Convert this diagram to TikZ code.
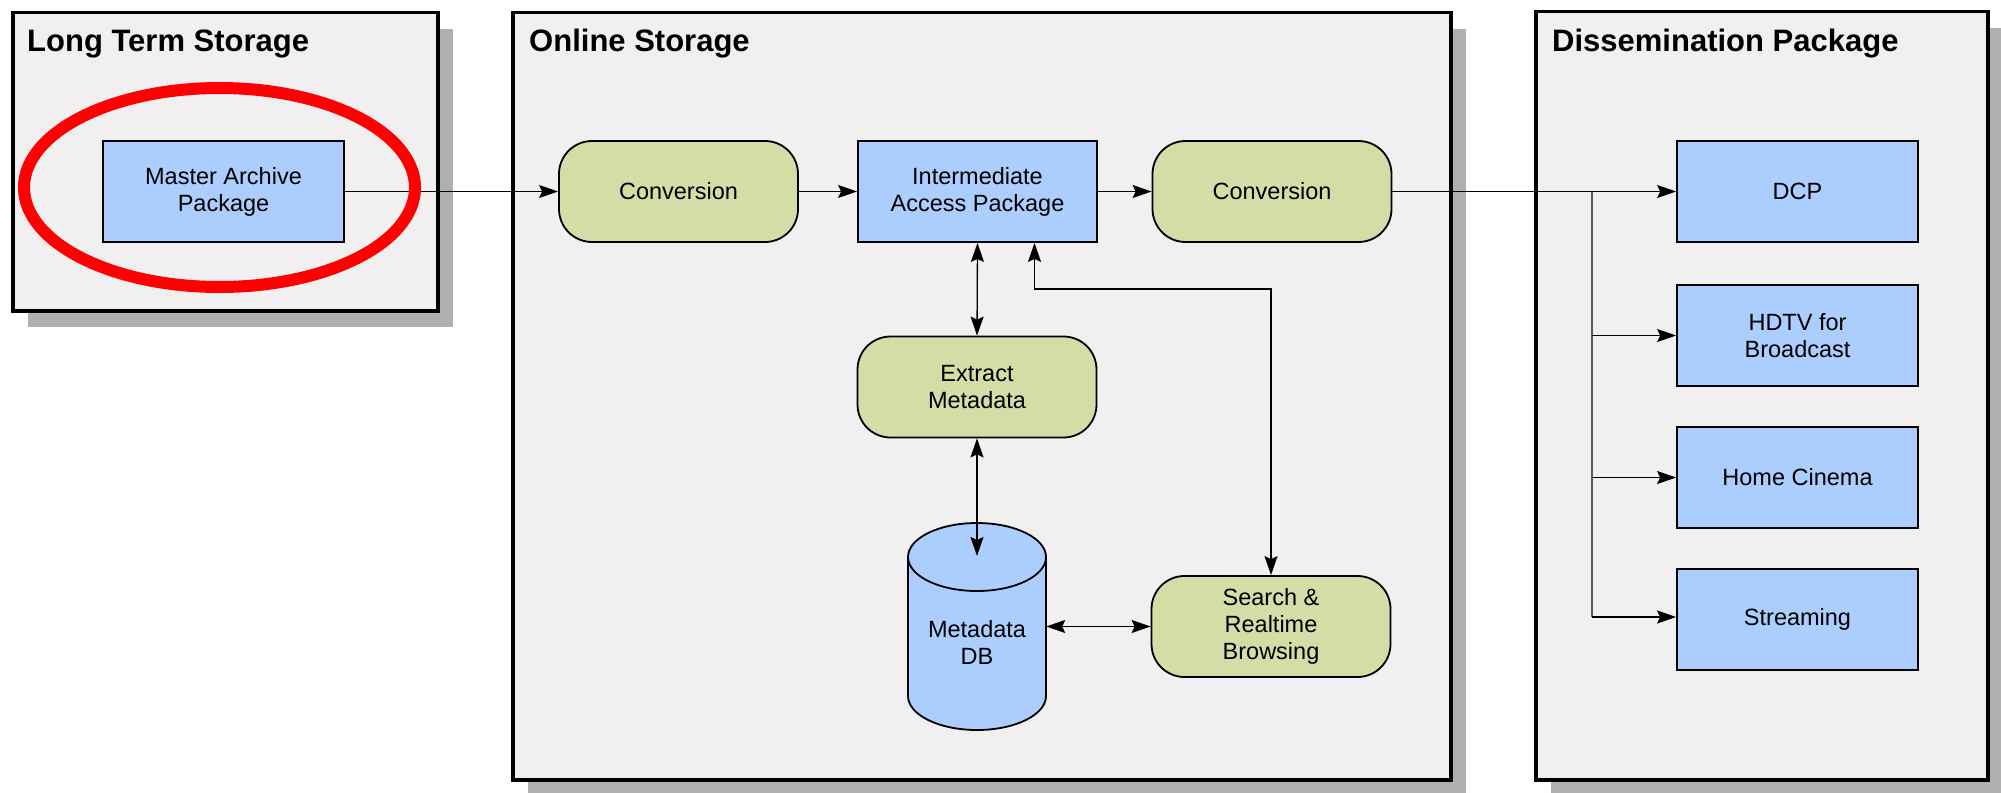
\documentclass[tikz,border=0pt]{standalone}
\usepackage{fontspec}
\setmainfont{Liberation Sans}
\usetikzlibrary{arrows.meta,shadows}

\definecolor{panelfill}{RGB}{241,239,240}
\definecolor{shadowgray}{RGB}{176,176,176}
\definecolor{pkgblue}{RGB}{172,206,255}
\definecolor{procgreen}{RGB}{212,221,165}
\definecolor{branchgray}{RGB}{90,90,90}

\begin{document}
\begin{tikzpicture}[x=1pt,y=-1pt,
  panel/.style={draw=black, line width=3.5pt, fill=panelfill, anchor=north west,
    inner sep=0pt, drop shadow={shadow xshift=15pt, shadow yshift=-16pt,
    fill=shadowgray, opacity=1}},
  paneltitle/.style={anchor=base west, inner sep=0pt,
    font=\bfseries\fontsize{31}{37}\selectfont},
  pkg/.style={draw=black, line width=1.8pt, fill=pkgblue, minimum width=239pt,
    minimum height=101pt, align=center, inner sep=0pt,
    font=\fontsize{23.5}{27}\selectfont},
  proc/.style={pkg, fill=procgreen, rounded corners=33pt},
  tip/.tip={Stealth[length=19pt,width=13pt,inset=3pt]},
  link/.style={line width=1.3pt, -tip},
  dlink/.style={line width=1.3pt, tip-tip}
]
\useasboundingbox (0,0) rectangle (2001,792);
\clip (0,0) rectangle (2001,792);
\fill[white] (0,0) rectangle (2001,792);

% containers
\node[panel, minimum width=425pt, minimum height=298pt] (lts) at (11,11) {};
\node[panel, minimum width=938pt, minimum height=767pt] (online) at (511,11) {};
\node[panel, minimum width=452pt, minimum height=768pt] (dissem) at (1534,10) {};

\node[paneltitle] (ltsTitle) at (27,52) {Long Term Storage};
\node[paneltitle] (onlineTitle) at (529,52) {Online Storage};
\node[paneltitle] (dissemTitle) at (1552,52) {Dissemination Package};

% long term storage
\node[pkg, minimum width=241pt] (map) at (223.5,191.5) {Master Archive\\Package};

% online storage
\node[proc] (conv1) at (678.5,191.5) {Conversion};
\node[pkg] (iap) at (977.5,191.5) {Intermediate\\Access Package};
\node[proc] (conv2) at (1272,191.5) {Conversion};
\node[proc] (extract) at (977,387) {Extract\\Metadata};
\node[proc] (search) at (1271,626.5) {Search \&\\Realtime\\Browsing};

% metadata database drawn as a cylinder
\filldraw[fill=pkgblue, line width=1.8pt]
  (908,557) -- (908,696) arc[start angle=180, end angle=360, x radius=69pt, y radius=34pt]
  -- (1046,557) arc[start angle=0, end angle=180, x radius=69pt, y radius=34pt] -- cycle;
\draw[line width=1.8pt] (908,557) arc[start angle=180, end angle=360, x radius=69pt, y radius=34pt];
\node[minimum width=138pt, minimum height=207pt, inner sep=0pt] (db) at (977,626.5) {};
\node[align=center, inner sep=0pt, font=\fontsize{23.5}{27}\selectfont] (dbLabel) at (977,642) {Metadata\\DB};
\coordinate (dbTop) at (977,556);

% dissemination packages
\node[pkg, minimum width=241pt] (dcp) at (1797.5,191.5) {DCP};
\node[pkg, minimum width=241pt] (hdtv) at (1797.5,335.5) {HDTV for\\Broadcast};
\node[pkg, minimum width=241pt] (home) at (1797.5,477.5) {Home Cinema};
\node[pkg, minimum width=241pt] (stream) at (1797.5,619.5) {Streaming};

% main flow
\draw[link] (map.east) -- (conv1.west);
\draw[link] (conv1.east) -- (iap.west);
\draw[link] (iap.east) -- (conv2.west);
\draw[link] (conv2.east) -- (dcp.west);

% fan-out to the dissemination formats
\coordinate (branchTop) at (1592,191.5);
\coordinate (branchBot) at (1592,617);
\draw[line width=2pt, branchgray] (branchTop) -- (branchBot);
\draw[link] (branchTop |- hdtv.west) -- (hdtv.west);
\draw[link] (branchTop |- home.west) -- (home.west);
\draw[link] (branchBot) -- (branchBot -| stream.west);

% metadata links
\draw[dlink] (iap.south) -- (extract.north);
\draw[dlink] (extract.south) -- (dbTop);
\draw[dlink] (db.east |- search.west) -- (search.west);
\coordinate (bend) at (1034.5,289);
\draw[dlink] (search.north) |- (bend) -- (bend |- iap.south);

% highlight around the master archive
\draw[red, line width=12pt] (219.5,187.5) ellipse [x radius=195.5pt, y radius=99.5pt];
\end{tikzpicture}
\end{document}
